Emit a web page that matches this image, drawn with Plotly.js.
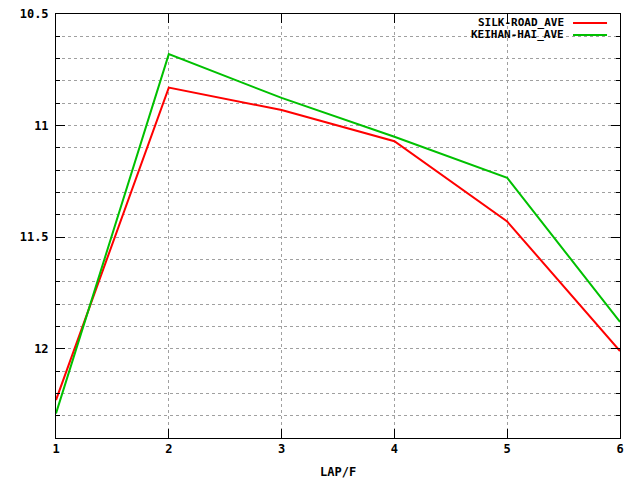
<!DOCTYPE html>
<html><head><meta charset="utf-8">
<script src="https://cdn.plot.ly/plotly-3.0.1.min.js"></script>
<style>body{margin:0;padding:0;background:#fff}#plot{width:640px;height:480px}</style>
</head><body><div id="plot"></div>
<script>
const laps = [1, 2, 3, 4, 5, 6];
const silkRoad = [12.23, 10.83, 10.93, 11.07, 11.43, 12.01];
const keihanHai = [12.29, 10.68, 10.876, 11.05, 11.234, 11.88];
const seriesNames = ['SILK-ROAD_AVE', 'KEIHAN-HAI_AVE'];
const seriesColors = ['#ff0000', '#00c000'];
const yTicks = [10.5, 11, 11.5, 12];
const yTickText = ['10.5', '11', '11.5', '12'];

const font = {family: 'DejaVu Sans Mono', size: 12, color: '#000', weight: 'bold'};
const legFont = {family: 'DejaVu Sans Mono', size: 11, color: '#000', weight: 'bold'};
const traces = [silkRoad, keihanHai].map((ys, i) => ({
  x: laps, y: ys, type: 'scatter', mode: 'lines', name: seriesNames[i],
  line: {color: seriesColors[i], width: 2}, showlegend: false
}));

const legX = [0.9025, 0.9167, 0.977];
const legY = [0.979, 0.9505];
const annotations = seriesNames.map((n, i) => ({
  xref: 'paper', yref: 'paper', x: legX[0], y: legY[i], xanchor: 'right', yanchor: 'middle',
  text: n, showarrow: false, font: legFont, borderpad: 0
}));
annotations.push({xref: 'paper', yref: 'paper', x: 0.5, y: -0.08, xanchor: 'center', yanchor: 'middle',
  text: 'LAP/F', showarrow: false, font: font});
const shapes = seriesNames.map((n, i) => ({
  type: 'line', xref: 'paper', yref: 'paper', x0: legX[1], x1: legX[2], y0: legY[i], y1: legY[i],
  line: {color: seriesColors[i], width: 2}
}));

const layout = {
  width: 640, height: 480,
  margin: {l: 56, r: 20, t: 14, b: 42, pad: 0},
  paper_bgcolor: '#fff', plot_bgcolor: '#fff',
  font: font,
  showlegend: false,
  xaxis: {
    range: [1, 6], tickvals: laps, ticktext: laps.map(String),
    showgrid: true, gridcolor: '#a0a0a0', griddash: 'dot', gridwidth: 1,
    ticks: 'inside', ticklen: 9, tickcolor: '#000', mirror: 'allticks',
    showline: true, linecolor: '#000', linewidth: 1, zeroline: false,
    tickfont: font
  },
  yaxis: {
    range: [12.4, 10.5], tickvals: yTicks, ticktext: yTickText,
    showgrid: true, gridcolor: '#a0a0a0', griddash: 'dot', gridwidth: 1,
    ticks: 'inside', ticklen: 9, tickcolor: '#000', mirror: 'allticks',
    showline: true, linecolor: '#000', linewidth: 1, zeroline: false,
    tickfont: font, ticklabelstandoff: 4,
    minor: {dtick: 0.1, tick0: 10.5, showgrid: true, gridcolor: '#a0a0a0', griddash: 'dot', gridwidth: 1,
            ticks: 'inside', ticklen: 4, tickcolor: '#000'}
  },
  annotations: annotations,
  shapes: shapes
};
Plotly.newPlot('plot', traces, layout, {staticPlot: true, displayModeBar: false});
</script></body></html>
